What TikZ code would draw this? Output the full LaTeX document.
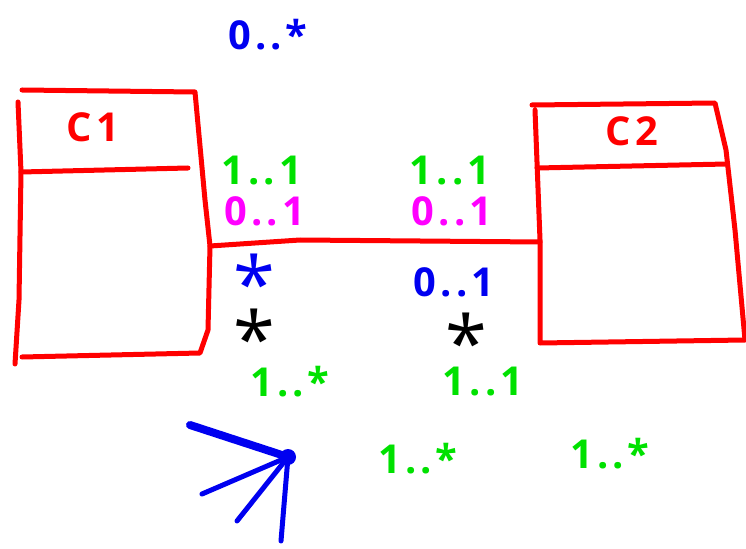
\documentclass[tikz,border=0pt]{standalone}
\usepackage{fontspec}
\setmainfont{Open Sans}

\definecolor{penred}{RGB}{255,0,0}
\definecolor{pengreen}{RGB}{0,225,0}
\definecolor{penpink}{RGB}{255,0,255}
\definecolor{penblue}{RGB}{0,0,240}

% a large asterisk whose box is just the glyph
\newcommand{\penast}{\smash{\raisebox{-29bp}{*}}}

\tikzset{
  pen/.style={line width=5bp, line cap=round, line join=round},
  mult/.style={font=\fontsize{40}{42}\selectfont\bfseries\addfontfeature{LetterSpace=10},
    inner sep=0pt},
  bigast/.style={font=\fontsize{76}{76}\selectfont, inner sep=0pt,
    text height=32bp, text depth=0bp}
}

\begin{document}
\begin{tikzpicture}[x=1bp, y=-1bp]
  \useasboundingbox (0,0) rectangle (746,549);

  % Class C1
  \draw[pen, penred] (22,90) -- (195,92) -- (205,200) -- (210,246) -- (208,330) -- (200,353)
    -- (22,357);
  \draw[pen, penred] (18,102) -- (21,172) -- (19,300) -- (15,364);
  \draw[pen, penred] (21,172) -- (188,168);
  \node[mult, penred] (c1) at (93,127) {C1};

  % Class C2
  \draw[pen, penred] (532,105) -- (715,103) -- (726,150) -- (735,230) -- (745,340)
    -- (540,343) -- (540,240) -- (535,110);
  \draw[pen, penred] (537,168) -- (727,164);
  \node[mult, penred] (c2) at (632,131) {C2};

  % Association between the two classes
  \coordinate (endA) at (210,246);
  \coordinate (endB) at (540,242);
  \draw[pen, penred] (endA) -- (300,240) -- (endB);

  % Multiplicities near C1
  \node[mult, penblue] (anyTop) at (268,35) {0..*};
  \node[mult, pengreen] (aOneOne) at (262,171) {1..1};
  \node[mult, penpink] (aZeroOne) at (265,211) {0..1};
  \node[bigast, penblue] (aBlueStar) at (254,266) {\penast};
  \node[bigast, black] (aBlackStar) at (254,321) {\penast};
  \node[mult, pengreen] (aOneMany) at (290,382) {1..*};

  % Multiplicities near C2
  \node[mult, pengreen] (bOneOne) at (450,171) {1..1};
  \node[mult, penpink] (bZeroOne) at (452,211) {0..1};
  \node[mult, penblue] (bZeroOneBlue) at (454,282) {0..1};
  \node[bigast, black] (bBlackStar) at (466,325) {\penast};
  \node[mult, pengreen] (bOneOneLow) at (483,382) {1..1};

  % Free multiplicities
  \node[mult, pengreen] (oneManyA) at (418,459) {1..*};
  \node[mult, pengreen] (oneManyB) at (610,454) {1..*};

  % Crow's foot
  \coordinate (foot) at (288,457);
  \fill[penblue] (foot) circle (8);
  \draw[pen, penblue, line width=8bp] (foot) -- (190,425);
  \draw[pen, penblue] (foot) -- (202,494);
  \draw[pen, penblue] (foot) -- (237,521);
  \draw[pen, penblue] (foot) -- (281,541);
\end{tikzpicture}
\end{document}
